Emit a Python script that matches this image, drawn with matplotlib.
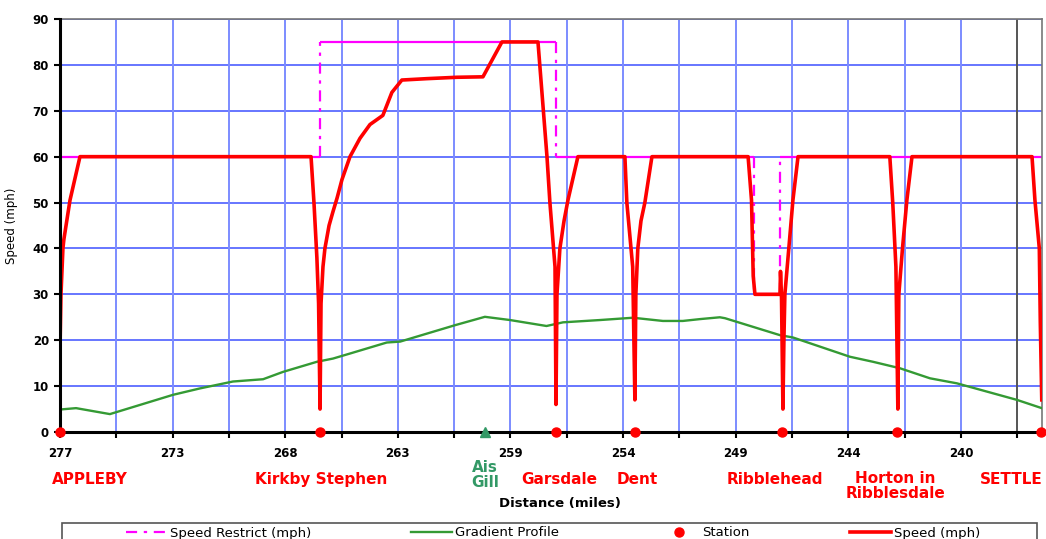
import matplotlib
matplotlib.use("Agg")
import matplotlib.pyplot as plt
from matplotlib.lines import Line2D
from matplotlib.patches import Rectangle
import matplotlib.transforms as mtransforms

plt.rcParams['font.family'] = ['DejaVu Sans']

# ---------------- data ----------------
# Speed profile (miles, mph)
speed_miles = [277.00, 276.96, 276.88, 276.84, 276.59, 276.18,
               266.69, 266.57, 266.45, 266.38, 266.32, 266.28, 266.20, 266.12, 265.95, 265.79,
               265.62, 265.42, 265.09, 264.68, 264.27, 263.74, 263.37, 262.96, 261.93, 260.70,
               259.63, 258.85, 257.37, 257.00, 256.88, 256.67, 256.63, 256.59, 256.47, 256.30,
               256.14, 255.73,
               253.80, 253.72, 253.48, 253.39, 253.35, 253.27, 253.14, 252.98, 252.69,
               248.74, 248.60, 248.53, 248.46, 247.43, 247.41, 247.37, 247.31, 247.27, 247.23,
               247.02, 246.90, 246.69,
               242.92, 242.80, 242.67, 242.59, 242.55, 242.40, 242.22, 242.01,
               237.08, 236.96, 236.78, 236.74, 236.68]
speed_mph = [18, 30, 40, 42, 50.5, 60,
             60, 50, 38, 28, 5, 28, 36, 40, 45, 48,
             51, 55, 60, 64, 67, 69, 74, 76.7, 77, 77.3,
             77.4, 85, 85, 60, 50, 36, 6, 30, 40, 46,
             50.5, 60,
             60, 50, 36, 7, 30, 40, 46, 50, 60,
             60, 50.5, 34, 30, 30, 35, 30, 5, 20, 30,
             43, 50.5, 60,
             60, 50, 36, 5, 30, 40, 50.5, 60,
             60, 50.5, 40, 24, 7]

# Gradient profile (miles, value on speed scale)
grad_miles = [277.00, 276.34, 274.95, 272.36, 271.25, 269.90, 268.66, 267.84, 266.45,
              265.79, 265.09, 263.58, 263.03, 260.76, 259.55, 258.52, 257.02, 256.34,
              254.82, 253.47, 252.24, 251.42, 250.72, 249.90, 249.69, 247.43, 246.90,
              244.56, 243.61, 242.51, 241.27, 240.16, 237.70, 236.68]
grad_vals = [4.9, 5.2, 3.9, 8.1, 9.5, 11.0, 11.5, 13.1, 15.3,
             16.0, 17.1, 19.5, 19.7, 23.3, 25.1, 24.4, 23.1, 23.9,
             24.4, 24.9, 24.2, 24.2, 24.6, 25.0, 24.8, 21.1, 20.6,
             16.4, 15.3, 13.9, 11.7, 10.6, 7.0, 5.2]

# Speed restriction segments: start mile, end mile, limit (mph)
restrict_start = [277.00, 266.32, 256.63, 248.50, 247.43]
restrict_end = [266.32, 256.63, 248.50, 247.43, 236.67]
restrict_limit = [60, 85, 60, 30, 60]

# Stations
station_names = ["APPLEBY", "Kirkby Stephen", "Garsdale", "Dent", "Ribblehead",
                 "Horton in\nRibblesdale", "SETTLE"]
station_miles = [277.00, 266.32, 256.63, 253.39, 247.35, 242.62, 236.70]
summit_name = "Ais\nGill"
summit_mile = 259.55

# Axis ticks
tick_miles = [277 - 2.3125 * k for k in range(18)]
tick_labels = ["277", "", "273", "", "268", "", "263", "", "259", "",
               "254", "", "249", "", "244", "", "240", ""]
y_ticks = [0, 10, 20, 30, 40, 50, 60, 70, 80, 90]

# ---------------- figure ----------------
W, H = 1046, 539
fig = plt.figure(figsize=(W / 100, H / 100), dpi=100)
ax = fig.add_axes([60 / W, 107 / H, 982 / W, 413 / H])

ax.set_xlim(277, 236.67)
ax.set_ylim(0, 90)

# grid
for ym in y_ticks[1:]:
    ax.axhline(ym, color='#5a6bff', lw=1.3, zorder=1)
for xm in tick_miles[1:-1]:
    ax.axvline(xm, color='#7c8cff', lw=1.4, zorder=1)
ax.axvline(tick_miles[-1], color='#555555', lw=1.4, zorder=1)

# speed restriction
ax.hlines(restrict_limit, restrict_start, restrict_end, colors='#ff00ff', lw=1.6, zorder=2)
ax.vlines(restrict_start[1:], restrict_limit[:-1], restrict_limit[1:], colors='#ff00ff',
          lw=1.6, linestyles=(0, (5, 3, 1.5, 3)), zorder=2)

# gradient
ax.plot(grad_miles, grad_vals, color='#349a34', lw=1.7, zorder=3)

# speed
ax.plot(speed_miles, speed_mph, color='#ff0000', lw=2.6, zorder=4, solid_joinstyle='round')

# stations
ax.plot(station_miles, [0] * len(station_miles), 'o', color='#ff0000', ms=6.5,
        zorder=6, clip_on=False)
ax.plot([summit_mile], [0], '^', color='#339966', ms=7, zorder=6, clip_on=False)

# spines
for s in ['left', 'bottom']:
    ax.spines[s].set_color('black')
    ax.spines[s].set_linewidth(2.2)
    ax.spines[s].set_zorder(5)
for s in ['top', 'right']:
    ax.spines[s].set_color('#777777')
    ax.spines[s].set_linewidth(1.2)

ax.set_xticks(tick_miles)
ax.set_xticklabels(tick_labels, fontsize=8.5, fontweight='bold')
ax.set_yticks(y_ticks)
ax.set_yticklabels([str(v) for v in y_ticks], fontsize=8.5, fontweight='bold')
ax.tick_params(axis='x', direction='out', length=4, width=1.5, pad=7)
ax.tick_params(axis='y', direction='out', length=4, width=1.5, pad=4)

ax.set_ylabel("Speed (mph)", fontsize=8.5, labelpad=10)
ax.yaxis.set_label_coords(-0.043, 0.5)

trans = mtransforms.blended_transform_factory(ax.transData, ax.transAxes)
label_px_offset = [30, 1, 3, 2, -7, -2, -30]
label_y = [-0.116, -0.116, -0.116, -0.116, -0.116, -0.130, -0.116]
for name, m, dx, yy in zip(station_names, station_miles, label_px_offset, label_y):
    t = mtransforms.offset_copy(trans, fig=fig, x=dx * 0.72, y=0, units='points')
    ax.text(m, yy, name, transform=t, ha='center', va='center', color='#ff0000',
            fontsize=11, fontweight='bold', linespacing=1.0, clip_on=False)
ax.text(summit_mile, -0.104, summit_name, transform=trans, ha='center', va='center',
        color='#339966', fontsize=11, fontweight='semibold', linespacing=1.0, clip_on=False)

fig.text(560 / W, 1 - 504 / H, "Distance (miles)", ha='center', va='center',
         fontsize=9.5, fontweight='bold')

# legend
fig.add_artist(Rectangle((62 / W, -0.05), (1037 - 62) / W, (539 - 523) / H + 0.05,
                         transform=fig.transFigure, facecolor='white',
                         edgecolor='#555555', lw=1.2, zorder=0))
handles = [Line2D([], [], color='#ff00ff', lw=1.6, ls=(0, (5, 3, 1.5, 3))),
           Line2D([], [], color='#349a34', lw=1.7),
           Line2D([], [], color='#ff0000', marker='o', ls='none', ms=6.5),
           Line2D([], [], color='#ff0000', lw=2.6)]
labels = ["Speed Restrict (mph)", "Gradient Profile", "Station", "Speed (mph)"]
fig.legend(handles, labels, loc='center', bbox_to_anchor=(553 / W, 1 - 533 / H),
           ncol=4, frameon=False, fontsize=9.5, handlelength=3.1, handletextpad=0.2,
           columnspacing=7.6, borderpad=0)

fig.savefig("out.png", dpi=100)
